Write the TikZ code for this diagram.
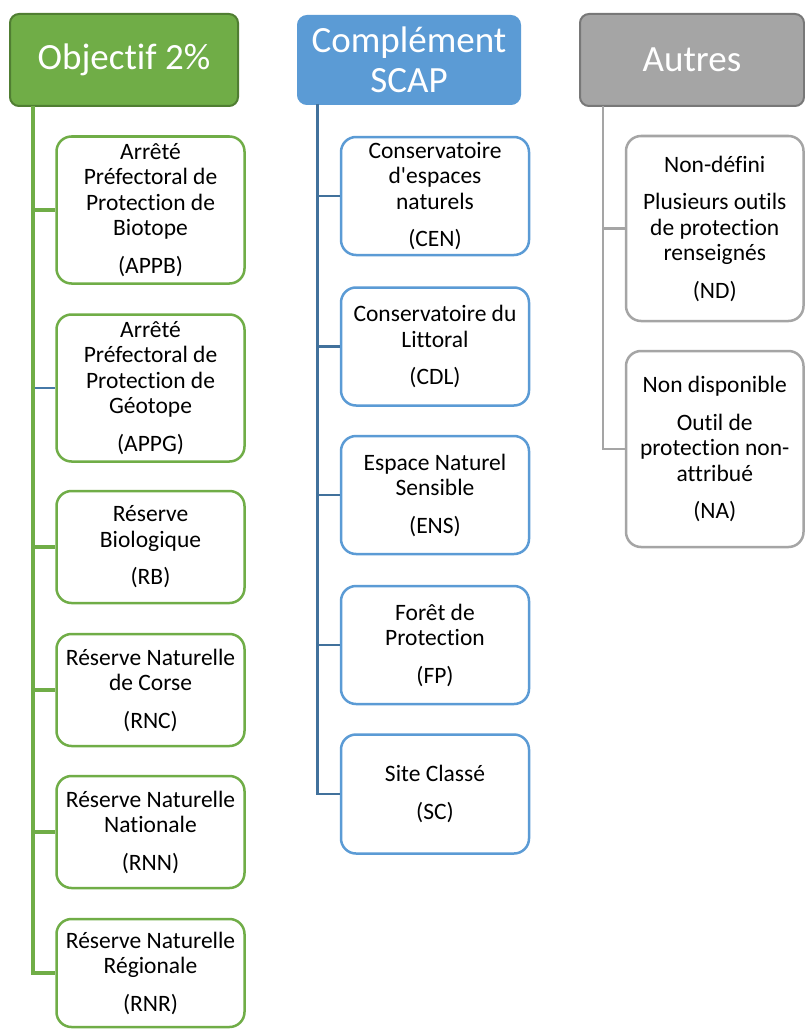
\documentclass[tikz,border=0pt]{standalone}
\usepackage{fontspec}
\setmainfont{Carlito}[Ligatures=NoCommon]
\definecolor{G}{HTML}{70AD47}
\definecolor{Gd}{HTML}{507E32}
\definecolor{B}{HTML}{5B9BD5}
\definecolor{Bd}{HTML}{41719C}
\definecolor{Gr}{HTML}{A5A5A5}
\definecolor{Grd}{HTML}{787878}
\tikzset{
  hdr/.style={rounded corners=9pt, line width=2pt, text=white, inner sep=0pt, align=center,
    font=\fontsize{37}{40}\selectfont},
  bx/.style={line width=2.5pt, fill=white, rounded corners=15pt, inner sep=0pt, align=center,
    text=black, font=\fontsize{23.5}{25.5}\selectfont},
  gbox/.style={bx, draw=G, minimum width=188pt},
  bbox/.style={bx, draw=B, minimum width=188pt},
  grbox/.style={bx, draw=Gr, minimum width=177.5pt},
  gline/.style={draw=G, line width=3.5pt},
  bline/.style={draw=Bd, line width=2.5pt},
  grline/.style={draw=Gr, line width=2.5pt},
}
\begin{document}
\begin{tikzpicture}[x=1pt,y=-1pt]
\clip (0,0) rectangle (805,1030);
\fill[white] (0,0) rectangle (805,1030);

% headers
\node[hdr, fill=G, draw=Gd, minimum width=228pt, minimum height=92pt] (hg) at (124,60) {Objectif 2\%};
\node[hdr, fill=B, draw=B, minimum width=222pt, minimum height=88pt] (hb) at (409,60) {Complément\\SCAP};
\node[hdr, fill=Gr, draw=Grd, minimum width=224pt, minimum height=92pt] (hgr) at (692,60) {Autres};

% green column
\node[gbox, minimum height=147pt] (appb) at (150.5,210) {Arrêté\\Préfectoral de\\Protection de\\Biotope\\[12pt](APPB)};
\node[gbox, minimum height=147pt] (appg) at (150.5,388) {Arrêté\\Préfectoral de\\Protection de\\Géotope\\[12pt](APPG)};
\node[gbox, minimum height=112pt] (rb) at (150.5,547) {Réserve\\Biologique\\[12pt](RB)};
\node[gbox, minimum height=112pt] (rnc) at (150.5,690) {Réserve Naturelle\\de Corse\\[12pt](RNC)};
\node[gbox, minimum height=112pt] (rnn) at (150.5,832) {Réserve Naturelle\\Nationale\\[12pt](RNN)};
\node[gbox, minimum height=108pt] (rnr) at (150.5,973) {Réserve Naturelle\\Régionale\\[12pt](RNR)};

% blue column
\node[bbox, minimum height=118pt] (cen) at (435,196) {Conservatoire\\d\textquotesingle espaces\\naturels\\[12pt](CEN)};
\node[bbox, minimum height=118pt] (cdl) at (435,346.5) {Conservatoire du\\Littoral\\[12pt](CDL)};
\node[bbox, minimum height=118pt] (ens) at (435,495) {Espace Naturel\\Sensible\\[12pt](ENS)};
\node[bbox, minimum height=118pt] (fp) at (435,645) {Forêt de\\Protection\\[12pt](FP)};
\node[bbox, minimum height=119pt] (sc) at (435,794) {Site Classé\\[12pt](SC)};

% gray column
\node[grbox, minimum height=185pt] (nd) at (714.75,228.5) {Non-défini\\[12pt]Plusieurs outils\\de protection\\renseignés\\[12pt](ND)};
\node[grbox, minimum height=196pt] (na) at (714.75,449) {Non disponible\\[12pt]Outil de\\protection non-\\attribué\\[12pt](NA)};

% trunks
\coordinate (gt) at (33,106);
\coordinate (bt) at (317.5,104);
\coordinate (grt) at (603,106);

\draw[gline] (gt) |- (rnr.west);
\draw[gline] (gt |- appb.west) -- (appb.west);
\draw[bline, draw=Bd!80!B, line width=2pt] (gt |- appg.west) ++(1.75,0) -- (appg.west);
\draw[gline] (gt |- rb.west) -- (rb.west);
\draw[gline] (gt |- rnc.west) -- (rnc.west);
\draw[gline] (gt |- rnn.west) -- (rnn.west);

\draw[bline] (bt) |- (sc.west);
\draw[bline] (bt |- cen.west) -- (cen.west);
\draw[bline] (bt |- cdl.west) -- (cdl.west);
\draw[bline] (bt |- ens.west) -- (ens.west);
\draw[bline] (bt |- fp.west) -- (fp.west);

\draw[grline] (grt) |- (na.west);
\draw[grline] (grt |- nd.west) -- (nd.west);
\end{tikzpicture}
\end{document}
